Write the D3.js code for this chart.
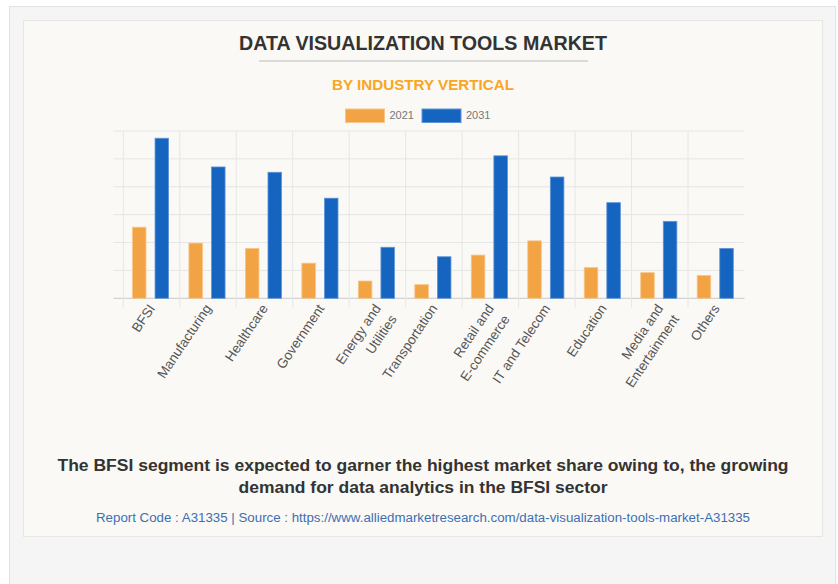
<!DOCTYPE html>
<html>
<head>
<meta charset="utf-8">
<script src="https://cdn.jsdelivr.net/npm/d3@7/dist/d3.min.js"></script>
<style>
  html, body { margin: 0; padding: 0; background: #ffffff; }
  svg { display: block; font-family: "Liberation Sans", Arial, sans-serif; }
</style>
</head>
<body>
<div id="chart"></div>
<script>
// data (units = one gridline step)
var categories = ["BFSI", "Manufacturing", "Healthcare", "Government", "Energy and|Utilities",
  "Transportation", "Retail and|E-commerce", "IT and Telecom", "Education",
  "Media and|Entertainment", "Others"];
var series = ["2021", "2031"];
var values2021 = [2.55, 1.98, 1.79, 1.26, 0.62, 0.49, 1.55, 2.06, 1.10, 0.92, 0.82];
var values2031 = [5.74, 4.71, 4.52, 3.59, 1.83, 1.49, 5.11, 4.35, 3.43, 2.76, 1.79];
var yTicks = [0, 1, 2, 3, 4, 5, 6];
var colors = {"2021": "#f2a444", "2031": "#1565c0"};
var strokes = {"2021": "#f7c68a", "2031": "#5e95d8"};

var W = 838, H = 584;
var svg = d3.select("#chart").append("svg").attr("width", W).attr("height", H);

// panels
svg.append("rect").attr("x", 9.5).attr("y", 6.5).attr("width", 826).attr("height", 600)
  .attr("fill", "#f5f5f5").attr("stroke", "#e2e2e2");
svg.append("rect").attr("x", 23.5).attr("y", 20.5).attr("width", 799).attr("height", 516)
  .attr("fill", "#faf9f5").attr("stroke", "#e6e6e4");

var cx = 423;
svg.append("text").attr("x", cx).attr("y", 50).attr("text-anchor", "middle")
  .attr("font-size", 19.5).attr("font-weight", "bold").attr("fill", "#333")
  .attr("textLength", 368).attr("lengthAdjust", "spacingAndGlyphs")
  .text("DATA VISUALIZATION TOOLS MARKET");
svg.append("line").attr("x1", 259).attr("x2", 588).attr("y1", 61).attr("y2", 61)
  .attr("stroke", "#cfcfcf").attr("stroke-width", 1.5);
svg.append("text").attr("x", cx).attr("y", 90).attr("text-anchor", "middle")
  .attr("font-size", 15).attr("font-weight", "bold").attr("fill", "#f8a624")
  .attr("textLength", 182).attr("lengthAdjust", "spacingAndGlyphs")
  .text("BY INDUSTRY VERTICAL");

// legend
var legX = [345.5, 422];
series.forEach(function(s, i) {
  svg.append("rect").attr("x", legX[i]).attr("y", 109).attr("width", 39).attr("height", 13.5)
    .attr("fill", colors[s]).attr("stroke", strokes[s]).attr("stroke-width", 1);
  svg.append("text").attr("x", legX[i] + 44).attr("y", 119).attr("font-size", 11)
    .attr("fill", "#777").text(s);
});

// scales
var plotL = 123.3, plotR = 744.5, plotT = 131, plotB = 298.3;
var x = d3.scaleBand().domain(categories).range([plotL, plotR]).padding(0);
var x1 = d3.scaleBand().domain(series).range([0, x.bandwidth()])
  .paddingInner(0.4).paddingOuter(0.45).align(0.45);
var y = d3.scaleLinear().domain([0, 6]).range([plotB, plotT]);

// grid
var g = svg.append("g");
g.selectAll(".hgrid").data(yTicks).enter().append("line")
  .attr("x1", plotL - 10).attr("x2", plotR)
  .attr("y1", function(d) { return y(d); }).attr("y2", function(d) { return y(d); })
  .attr("stroke", function(d) { return d === 0 ? "#d3d3d3" : "#e6e6e6"; })
  .attr("stroke-width", function(d) { return d === 0 ? 1.3 : 1; });
g.selectAll(".vgrid").data(categories).enter().append("line")
  .attr("x1", function(d) { return x(d); }).attr("x2", function(d) { return x(d); })
  .attr("y1", plotT).attr("y2", plotB + 9)
  .attr("stroke", "#e6e6e6");

// bars
var rows = categories.map(function(c, i) {
  return {cat: c, vals: [{s: "2021", v: values2021[i]}, {s: "2031", v: values2031[i]}]};
});
var grp = g.selectAll(".cat").data(rows).enter().append("g")
  .attr("transform", function(d) { return "translate(" + x(d.cat) + ",0)"; });
grp.selectAll("rect").data(function(d) { return d.vals; }).enter().append("rect")
  .attr("x", function(d) { return x1(d.s); })
  .attr("width", x1.bandwidth())
  .attr("y", function(d) { return y(d.v); })
  .attr("height", function(d) { return plotB - y(d.v); })
  .attr("fill", function(d) { return colors[d.s]; })
  .attr("stroke", function(d) { return strokes[d.s]; })
  .attr("stroke-width", 0.8);

// x labels
var angle = -56;
var lab = g.selectAll(".xlab").data(categories).enter().append("text")
  .attr("text-anchor", "end").attr("font-size", 13.5).attr("fill", "#555")
  .attr("transform", function(d) {
    return "translate(" + (x(d) + x.bandwidth() / 2 + 4) + "," + (plotB + 10) + ") rotate(" + angle + ")";
  });
lab.each(function(d) {
  var parts = d.split("|");
  var t = d3.select(this);
  parts.forEach(function(p, i) {
    t.append("tspan").attr("x", 0).attr("dy", i === 0 ? 0 : 19).text(p);
  });
});

// footer
svg.append("text").attr("x", cx).attr("y", 471).attr("text-anchor", "middle")
  .attr("font-size", 16).attr("font-weight", "bold").attr("fill", "#333")
  .attr("textLength", 731).attr("lengthAdjust", "spacingAndGlyphs")
  .text("The BFSI segment is expected to garner the highest market share owing to, the growing");
svg.append("text").attr("x", cx).attr("y", 493).attr("text-anchor", "middle")
  .attr("font-size", 16).attr("font-weight", "bold").attr("fill", "#333")
  .attr("textLength", 369).attr("lengthAdjust", "spacingAndGlyphs")
  .text("demand for data analytics in the BFSI sector");
svg.append("text").attr("x", cx).attr("y", 521.5).attr("text-anchor", "middle")
  .attr("font-size", 12).attr("fill", "#3c6fb4")
  .attr("textLength", 654).attr("lengthAdjust", "spacingAndGlyphs")
  .text("Report Code : A31335  |  Source : https://www.alliedmarketresearch.com/data-visualization-tools-market-A31335");
</script>
</body>
</html>
